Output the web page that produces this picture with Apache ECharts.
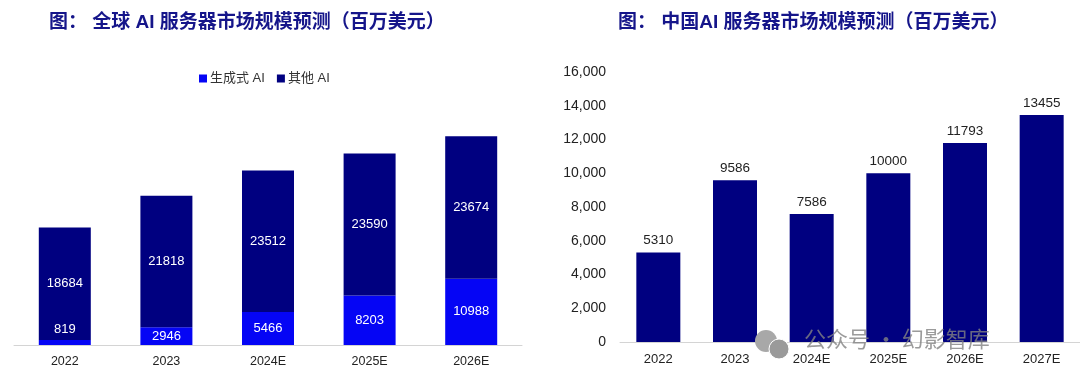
<!DOCTYPE html>
<html><head><meta charset="utf-8">
<style>html,body{margin:0;padding:0;background:#fff}#c{width:1080px;height:388px}</style>
<script src="https://cdn.jsdelivr.net/npm/echarts@6/dist/echarts.min.js"></script>
</head><body><div id="c"></div>
<script>
const globalYears = ['2022','2023','2024E','2025E','2026E'];
const genAI = [819,2946,5466,8203,10988];
const otherAI = [18684,21818,23512,23590,23674];
const chinaYears = ['2022','2023','2024E','2025E','2026E','2027E'];
const chinaValues = [5310,9586,7586,10000,11793,13455];
const yTicks = [0,2000,4000,6000,8000,10000,12000,14000,16000];
const leftTitle = '图： 全球 AI 服务器市场规模预测（百万美元）';
const rightTitle = '图： 中国AI 服务器市场规模预测（百万美元）';
const watermark = '公众号 · 幻影智库';

const latin = '"Liberation Sans", Arial, sans-serif';
const cjk = '"Liberation Sans", "Noto Sans CJK SC", sans-serif';
const navy = '#000080', blue = '#0505f5', axisGray = '#d4d4d4', textCol = '#222';
const chart = echarts.init(document.getElementById('c'), null, {renderer:'canvas'});
const titleStyle = {fontFamily:cjk, fontWeight:'bold', fontSize:19, color:'#15158a'};
chart.setOption({
  animation:false,
  backgroundColor:'#fff',
  title:[
    {text:leftTitle, left:44, top:8, textStyle:titleStyle},
    {text:rightTitle, left:613, top:8, textStyle:titleStyle}
  ],
  legend:{
    data:['生成式 AI','其他 AI'], left:194, top:67, itemWidth:8, itemHeight:8, itemGap:12,
    icon:'rect', selectedMode:false,
    textStyle:{fontFamily:cjk, fontSize:13, color:'#333', padding:[0,0,0,-2]}
  },
  grid:[
    {left:14, width:508, top:104, height:241},
    {left:620, width:462, top:72, height:270}
  ],
  xAxis:[
    {type:'category', gridIndex:0, data:globalYears,
     axisLine:{lineStyle:{color:axisGray}}, axisTick:{show:false},
     axisLabel:{fontFamily:latin, fontSize:12.5, color:textCol, margin:10}},
    {type:'category', gridIndex:1, data:chinaYears,
     axisLine:{lineStyle:{color:axisGray}}, axisTick:{show:false},
     axisLabel:{fontFamily:latin, fontSize:13, color:textCol, margin:11}}
  ],
  yAxis:[
    {type:'value', gridIndex:0, min:0, max:40000, show:false},
    {type:'value', gridIndex:1, min:0, max:16000, interval:2000,
     axisLine:{show:false}, axisTick:{show:false}, splitLine:{show:false},
     axisLabel:{fontFamily:latin, fontSize:14, color:textCol, margin:14,
       customValues:yTicks}}
  ],
  series:[
    {name:'生成式 AI', type:'bar', stack:'a', xAxisIndex:0, yAxisIndex:0, barWidth:52,
     itemStyle:{color:blue},
     data:genAI.map((v,i)=> i===0
       ? {value:v, label:{offset:[0,-13]}}
       : {value:v}),
     label:{show:true, position:'inside', color:'#fff', fontFamily:latin, fontSize:13}},
    {name:'其他 AI', type:'bar', stack:'a', xAxisIndex:0, yAxisIndex:0, barWidth:52,
     itemStyle:{color:navy}, data:otherAI,
     label:{show:true, position:'inside', color:'#fff', fontFamily:latin, fontSize:13}},
    {name:'中国', type:'bar', xAxisIndex:1, yAxisIndex:1, barWidth:44,
     itemStyle:{color:navy}, data:chinaValues,
     label:{show:true, position:'top', distance:5, color:textCol, fontFamily:latin, fontSize:13.5}}
  ],
  color:[blue,navy],
  graphic:[
    {type:'circle', shape:{cx:766,cy:341,r:11}, style:{fill:'#a8a8a8'}, z:20},
    {type:'circle', shape:{cx:779,cy:349,r:10}, style:{fill:'#9a9a9a', stroke:'#fff', lineWidth:1}, z:21},
    {type:'text', left:804, top:328, z:22, style:{text:watermark, fill:'rgba(130,130,130,0.8)',
      font:'22px "Noto Sans CJK SC", sans-serif'}}
  ]
});
</script></body></html>
